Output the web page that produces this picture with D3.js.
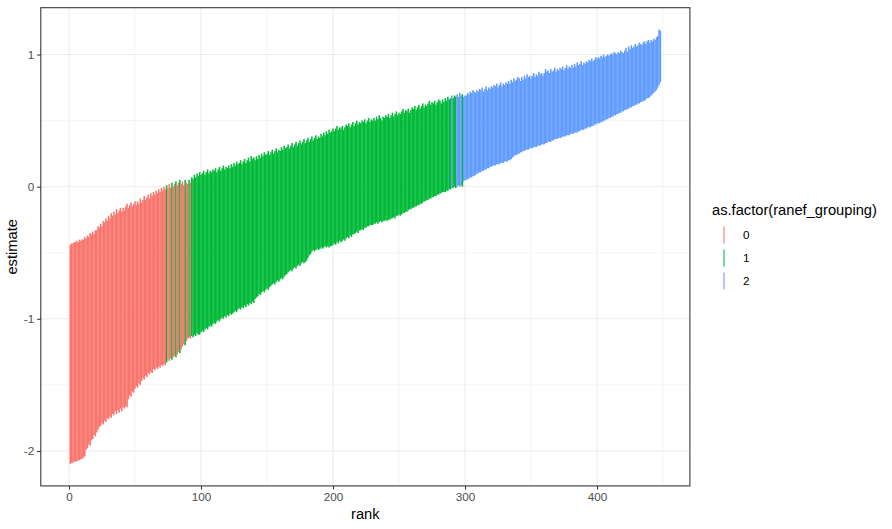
<!DOCTYPE html>
<html><head><meta charset="utf-8">
<script src="https://cdn.jsdelivr.net/npm/d3@7/dist/d3.min.js"></script>
<style>body{margin:0;background:#fff}text{font-family:"Liberation Sans",Arial,sans-serif}</style>
</head><body><svg id="c" width="892" height="529"></svg>
<script>
// upper interval bound, by rank 1..448
const upper = [
-0.44,-0.43,-0.43,-0.42,-0.42,-0.41,-0.42,-0.40,-0.41,-0.40,
-0.40,-0.38,-0.39,-0.37,-0.38,-0.35,-0.36,-0.34,-0.36,-0.33,
-0.33,-0.30,-0.31,-0.28,-0.30,-0.26,-0.27,-0.24,-0.26,-0.22,
-0.24,-0.20,-0.22,-0.19,-0.21,-0.17,-0.20,-0.18,-0.16,-0.19,
-0.16,-0.18,-0.15,-0.13,-0.16,-0.14,-0.12,-0.15,-0.13,-0.11,
-0.14,-0.11,-0.13,-0.09,-0.12,-0.10,-0.07,-0.10,-0.08,-0.06,
-0.09,-0.05,-0.07,-0.04,-0.06,-0.03,-0.05,-0.02,-0.04,-0.01,
-0.03,0.00,-0.02,0.01,-0.01,0.02,-0.01,0.03,0.00,0.02,
0.04,0.01,0.03,0.05,0.02,0.04,0.01,0.05,0.03,0.02,
0.05,0.03,0.07,0.06,0.09,0.07,0.10,0.08,0.11,0.09,
0.10,0.12,0.09,0.11,0.13,0.10,0.12,0.11,0.13,0.12,
0.14,0.11,0.13,0.15,0.12,0.14,0.16,0.13,0.15,0.14,
0.16,0.14,0.17,0.15,0.18,0.16,0.19,0.17,0.18,0.20,
0.17,0.19,0.21,0.18,0.20,0.22,0.19,0.23,0.21,0.22,
0.20,0.23,0.21,0.24,0.22,0.25,0.23,0.26,0.24,0.25,
0.27,0.24,0.26,0.28,0.25,0.27,0.29,0.26,0.28,0.27,
0.30,0.28,0.31,0.29,0.30,0.32,0.29,0.31,0.33,0.30,
0.32,0.34,0.31,0.33,0.35,0.32,0.34,0.36,0.33,0.35,
0.37,0.34,0.36,0.38,0.35,0.37,0.39,0.36,0.38,0.37,
0.40,0.38,0.41,0.39,0.42,0.40,0.43,0.41,0.42,0.44,
0.42,0.44,0.46,0.43,0.45,0.44,0.46,0.43,0.45,0.47,
0.46,0.48,0.45,0.47,0.49,0.46,0.48,0.50,0.47,0.49,
0.48,0.50,0.49,0.51,0.48,0.50,0.52,0.49,0.51,0.50,
0.52,0.50,0.53,0.51,0.54,0.52,0.50,0.53,0.52,0.54,
0.53,0.55,0.52,0.54,0.56,0.53,0.55,0.57,0.54,0.56,
0.55,0.57,0.59,0.56,0.58,0.57,0.59,0.56,0.58,0.60,
0.59,0.61,0.58,0.60,0.62,0.59,0.61,0.63,0.60,0.62,
0.61,0.63,0.65,0.62,0.64,0.63,0.65,0.62,0.64,0.66,
0.65,0.63,0.66,0.64,0.67,0.65,0.68,0.66,0.67,0.69,
0.67,0.69,0.68,0.70,0.68,0.71,0.69,0.70,0.68,0.69,
0.69,0.71,0.70,0.72,0.71,0.73,0.72,0.71,0.73,0.72,
0.74,0.73,0.75,0.72,0.74,0.76,0.73,0.75,0.74,0.76,
0.75,0.77,0.76,0.78,0.75,0.77,0.79,0.76,0.78,0.77,
0.79,0.78,0.80,0.78,0.81,0.79,0.82,0.80,0.81,0.83,
0.82,0.80,0.83,0.81,0.84,0.82,0.85,0.83,0.84,0.82,
0.84,0.86,0.83,0.85,0.84,0.87,0.85,0.86,0.84,0.86,
0.89,0.87,0.88,0.86,0.89,0.87,0.88,0.90,0.87,0.89,
0.88,0.90,0.89,0.91,0.88,0.90,0.92,0.89,0.91,0.90,
0.92,0.90,0.93,0.91,0.94,0.92,0.93,0.95,0.92,0.94,
0.93,0.95,0.94,0.96,0.95,0.97,0.95,0.96,0.98,0.97,
0.98,0.97,0.99,0.98,1.00,0.98,0.99,1.00,0.99,1.00,
1.01,1.00,1.02,1.01,1.00,1.02,1.01,1.03,1.02,1.01,
1.03,1.05,1.02,1.06,1.04,1.07,1.05,1.06,1.08,1.06,
1.07,1.09,1.08,1.07,1.09,1.10,1.08,1.10,1.11,1.09,
1.11,1.10,1.12,1.11,1.13,1.14,1.19,1.18
];
// lower interval bound, by rank 1..448
const lower = [
-2.10,-2.09,-2.09,-2.08,-2.08,-2.08,-2.07,-2.07,-2.06,-2.06,
-2.05,-2.04,-1.99,-1.98,-1.95,-1.96,-1.92,-1.91,-1.88,-1.89,
-1.86,-1.84,-1.82,-1.81,-1.79,-1.80,-1.77,-1.78,-1.75,-1.76,
-1.74,-1.75,-1.72,-1.73,-1.70,-1.72,-1.69,-1.71,-1.68,-1.70,
-1.67,-1.68,-1.66,-1.67,-1.61,-1.58,-1.59,-1.55,-1.56,-1.53,
-1.51,-1.52,-1.49,-1.50,-1.47,-1.45,-1.46,-1.43,-1.44,-1.41,
-1.42,-1.40,-1.41,-1.38,-1.39,-1.37,-1.38,-1.36,-1.37,-1.35,
-1.36,-1.34,-1.35,-1.33,-1.31,-1.32,-1.30,-1.31,-1.29,-1.28,
-1.29,-1.27,-1.25,-1.26,-1.23,-1.21,-1.19,-1.20,-1.17,-1.15,
-1.14,-1.15,-1.13,-1.14,-1.12,-1.13,-1.11,-1.12,-1.12,-1.10,
-1.09,-1.10,-1.08,-1.07,-1.08,-1.06,-1.05,-1.06,-1.04,-1.03,
-1.04,-1.02,-1.01,-1.02,-1.00,-0.99,-1.00,-0.98,-0.99,-0.97,
-0.98,-0.96,-0.97,-0.96,-0.95,-0.94,-0.95,-0.93,-0.92,-0.93,
-0.91,-0.92,-0.90,-0.91,-0.89,-0.90,-0.88,-0.89,-0.87,-0.88,
-0.85,-0.84,-0.83,-0.81,-0.82,-0.80,-0.79,-0.80,-0.78,-0.77,
-0.78,-0.76,-0.75,-0.74,-0.73,-0.74,-0.72,-0.71,-0.72,-0.70,
-0.69,-0.70,-0.68,-0.67,-0.66,-0.65,-0.64,-0.63,-0.64,-0.62,
-0.61,-0.62,-0.60,-0.59,-0.60,-0.58,-0.57,-0.58,-0.57,-0.56,
-0.54,-0.52,-0.51,-0.49,-0.48,-0.49,-0.48,-0.47,-0.48,-0.47,
-0.46,-0.47,-0.46,-0.45,-0.46,-0.45,-0.46,-0.45,-0.45,-0.44,
-0.43,-0.44,-0.42,-0.43,-0.41,-0.42,-0.41,-0.40,-0.41,-0.39,
-0.38,-0.39,-0.37,-0.38,-0.36,-0.36,-0.35,-0.34,-0.35,-0.33,
-0.33,-0.32,-0.33,-0.31,-0.31,-0.30,-0.30,-0.29,-0.29,-0.29,
-0.28,-0.28,-0.27,-0.28,-0.27,-0.26,-0.27,-0.26,-0.26,-0.25,
-0.26,-0.25,-0.25,-0.24,-0.24,-0.23,-0.24,-0.22,-0.22,-0.21,
-0.22,-0.21,-0.20,-0.20,-0.19,-0.19,-0.18,-0.17,-0.17,-0.16,
-0.16,-0.15,-0.15,-0.14,-0.14,-0.13,-0.13,-0.12,-0.11,-0.11,
-0.10,-0.10,-0.09,-0.09,-0.08,-0.08,-0.07,-0.07,-0.06,-0.06,
-0.05,-0.05,-0.04,-0.04,-0.04,-0.03,-0.03,-0.02,-0.02,-0.01,
-0.01,0.00,-0.01,0.00,0.01,0.00,0.01,0.00,0.04,0.05,
0.05,0.06,0.06,0.07,0.07,0.08,0.08,0.09,0.10,0.10,
0.11,0.11,0.12,0.12,0.13,0.13,0.14,0.14,0.15,0.15,
0.16,0.16,0.16,0.17,0.17,0.17,0.18,0.18,0.18,0.19,
0.19,0.19,0.20,0.20,0.21,0.22,0.23,0.24,0.24,0.25,
0.25,0.26,0.26,0.27,0.27,0.28,0.28,0.28,0.29,0.29,
0.29,0.30,0.30,0.30,0.31,0.31,0.31,0.32,0.32,0.32,
0.33,0.33,0.34,0.34,0.34,0.35,0.35,0.36,0.36,0.36,
0.37,0.37,0.37,0.38,0.38,0.38,0.39,0.39,0.39,0.40,
0.40,0.40,0.41,0.41,0.41,0.42,0.42,0.43,0.43,0.43,
0.44,0.44,0.45,0.45,0.45,0.46,0.46,0.47,0.47,0.48,
0.48,0.48,0.49,0.49,0.50,0.50,0.51,0.51,0.52,0.52,
0.53,0.53,0.54,0.54,0.55,0.55,0.56,0.56,0.57,0.57,
0.58,0.58,0.59,0.59,0.60,0.60,0.61,0.61,0.62,0.62,
0.63,0.63,0.64,0.64,0.65,0.65,0.66,0.67,0.67,0.68,
0.69,0.70,0.71,0.72,0.73,0.75,0.77,0.79
];
// group runs: [firstRank, lastRank, group]
const groupRuns = [
[1,73,0],[74,74,1],[75,77,0],[78,78,1],[79,80,0],[81,81,1],[82,83,0],[84,84,1],
[85,87,0],[88,88,1],[89,90,0],[91,91,1],[92,92,0],[93,289,1],[290,290,2],
[291,293,1],[294,297,2],[298,298,1],[299,448,2]
];
const groupLevels = ["0","1","2"];
const groupColors = ["#F8766D","#00BA38","#619CFF"];
const xTicks = [0,100,200,300,400];
const xMinor = [50,150,250,350,450];
const yTicks = [-2,-1,0,1];
const yMinor = [-1.5,-0.5,0.5];
const xTitle = "rank", yTitle = "estimate", legendTitle = "as.factor(ranef_grouping)";

const groupOf = r => groupRuns.find(g => r >= g[0] && r <= g[1])[2];
const data = upper.map((u,i) => ({rank:i+1, upper:u, lower:lower[i], group:groupOf(i+1)}));

const svg = d3.select("#c");
const P = {l:40.8, r:689.9, t:7.7, b:485.9};
const xExt = d3.extent(data, d=>d.rank), xPad = (xExt[1]-xExt[0])*0.05;
const yExt = [d3.min(data,d=>d.lower), d3.max(data,d=>d.upper)], yPad=(yExt[1]-yExt[0])*0.05;
const x = d3.scaleLinear().domain([xExt[0]-xPad, xExt[1]+xPad]).range([P.l,P.r]);
const y = d3.scaleLinear().domain([yExt[0]-yPad, yExt[1]+yPad]).range([P.b,P.t]);

const grid = svg.append("g");
grid.selectAll(".xm").data(xMinor.filter(v=>x(v)<P.r)).join("line")
  .attr("x1",d=>x(d)).attr("x2",d=>x(d)).attr("y1",P.t).attr("y2",P.b)
  .attr("stroke","#EBEBEB").attr("stroke-width",0.53);
grid.selectAll(".ym").data(yMinor).join("line")
  .attr("y1",d=>y(d)).attr("y2",d=>y(d)).attr("x1",P.l).attr("x2",P.r)
  .attr("stroke","#EBEBEB").attr("stroke-width",0.53);
grid.selectAll(".xM").data(xTicks).join("line")
  .attr("x1",d=>x(d)).attr("x2",d=>x(d)).attr("y1",P.t).attr("y2",P.b)
  .attr("stroke","#EBEBEB").attr("stroke-width",1.07);
grid.selectAll(".yM").data(yTicks).join("line")
  .attr("y1",d=>y(d)).attr("y2",d=>y(d)).attr("x1",P.l).attr("x2",P.r)
  .attr("stroke","#EBEBEB").attr("stroke-width",1.07);

svg.append("g").selectAll("line").data(data).join("line")
  .attr("x1",d=>x(d.rank)).attr("x2",d=>x(d.rank))
  .attr("y1",d=>y(d.lower)).attr("y2",d=>y(d.upper))
  .attr("stroke",d=>groupColors[d.group]).attr("stroke-width",1.55);

svg.append("rect").attr("x",P.l).attr("y",P.t).attr("width",P.r-P.l).attr("height",P.b-P.t)
  .attr("fill","none").attr("stroke","#333333").attr("stroke-width",1.07);

const xa = svg.append("g").attr("transform",`translate(0,${P.b})`)
  .call(d3.axisBottom(x).tickValues(xTicks).tickSize(3.67).tickPadding(2.9).tickFormat(d3.format("d")));
const ya = svg.append("g").attr("transform",`translate(${P.l},0)`)
  .call(d3.axisLeft(y).tickValues(yTicks).tickSize(3.67).tickPadding(2.9).tickFormat(d=>d3.format("d")(d).replace("−","-")));
[xa,ya].forEach(a=>{
  a.select(".domain").remove();
  a.selectAll(".tick line").attr("stroke","#333333").attr("stroke-width",1.07);
  a.selectAll(".tick text").attr("fill","#4D4D4D").style("font-size","11.7px").style("font-family",'"Liberation Sans",Arial,sans-serif');
});

svg.append("text").attr("x",(P.l+P.r)/2).attr("y",519).attr("text-anchor","middle")
  .style("font-size","14.7px").attr("fill","#000").text(xTitle);
svg.append("text").attr("transform",`translate(17,${(P.t+P.b)/2}) rotate(-90)`).attr("text-anchor","middle")
  .style("font-size","14.7px").attr("fill","#000").text(yTitle);

const lg = svg.append("g");
lg.append("text").attr("x",712).attr("y",215).style("font-size","14.7px").attr("fill","#000").text(legendTitle);
groupLevels.forEach((lv,i)=>{
  const cy = 235 + i*23;
  lg.append("line").attr("x1",724).attr("x2",724).attr("y1",cy-8.5).attr("y2",cy+8.5)
    .attr("stroke",groupColors[i]).attr("stroke-width",1.07);
  lg.append("text").attr("x",743).attr("y",cy+4).style("font-size","11.7px").attr("fill","#000").text(lv);
});
</script>
</body></html>
